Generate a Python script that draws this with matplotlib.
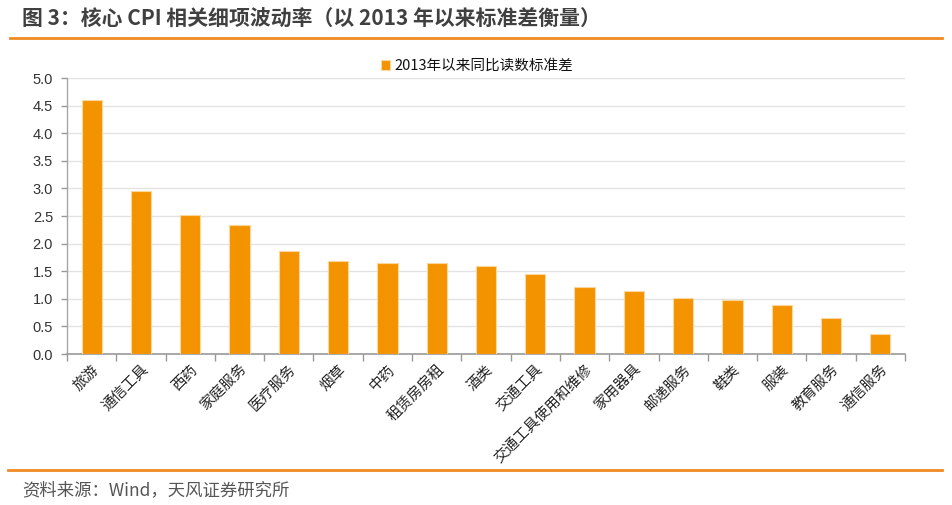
import matplotlib
matplotlib.use("Agg")
import matplotlib.pyplot as plt
import numpy as np

plt.rcParams['font.family'] = ['Noto Sans CJK SC', 'DejaVu Sans']

categories = ["旅游", "通信工具", "西药", "家庭服务", "医疗服务", "烟草", "中药", "租赁房房租",
              "酒类", "交通工具", "交通工具使用和维修", "家用器具", "邮递服务", "鞋类", "服装",
              "教育服务", "通信服务"]
values = [4.60, 2.95, 2.52, 2.34, 1.86, 1.69, 1.64, 1.64, 1.59, 1.45, 1.21, 1.14, 1.01, 0.97,
          0.88, 0.65, 0.37]
yticks = [0.0, 0.5, 1.0, 1.5, 2.0, 2.5, 3.0, 3.5, 4.0, 4.5, 5.0]
series_name = "2013年以来同比读数标准差"
title = "图 3：核心 CPI 相关细项波动率（以 2013 年以来标准差衡量）"
source = "资料来源：Wind，天风证券研究所"

W, H = 952, 505
fig = plt.figure(figsize=(W / 100, H / 100), dpi=100)
fig.patch.set_facecolor("white")

ax = fig.add_axes([67 / W, 1 - 354 / H, (905 - 67) / W, (354 - 78) / H])
x = np.arange(len(categories))
bar_color = "#F49300"
ax.bar(x, values, width=0.41, color=bar_color, edgecolor="#FBD7A0", linewidth=0.8,
       label=series_name, zorder=3)

ax.set_xlim(-0.5, len(categories) - 0.5)
ax.set_ylim(0, 5.0)
ax.set_yticks(yticks)
ax.set_yticklabels([f"{v:.1f}" for v in yticks], fontsize=10.5, color="#333333",
                   family=['Liberation Sans', 'DejaVu Sans'])
ax.yaxis.grid(True, color="#E3E3E3", linewidth=1.0, zorder=0)
ax.set_axisbelow(True)

ax.set_xticks(np.arange(-0.5, len(categories), 1.0))
ax.set_xticklabels([])
ax.set_xticks(x, minor=True)
ax.set_xticklabels(categories, minor=True, rotation=45, ha="right", va="top",
                   rotation_mode="anchor", fontsize=10.5, color="#222222")
ax.tick_params(axis="x", which="major", length=5, color="#999999", width=1)
ax.tick_params(axis="x", which="minor", length=0, pad=6)
ax.tick_params(axis="y", length=4, color="#999999", width=1, pad=6)

for s in ["top", "right"]:
    ax.spines[s].set_visible(False)
ax.spines["left"].set_color("#A6A6A6")
ax.spines["bottom"].set_color("#999999")
ax.spines["left"].set_linewidth(1)
ax.spines["bottom"].set_linewidth(1.2)

leg = ax.legend(loc="upper center", bbox_to_anchor=(477 / W, 1 - 46 / H),
                bbox_transform=fig.transFigure, frameon=False, fontsize=10.5,
                handlelength=0.6, handleheight=0.6, handletextpad=0.3)
for t in leg.get_texts():
    t.set_color("#111111")

fig.text(22 / W, 1 - 19 / H, title, fontsize=15, fontweight="bold", color="#404040",
         ha="left", va="center")
fig.add_artist(plt.Line2D([10 / W, 942 / W], [1 - 38 / H, 1 - 38 / H], color="#F08A24",
                          linewidth=2, transform=fig.transFigure))
fig.add_artist(plt.Line2D([8 / W, 942 / W], [1 - 470 / H, 1 - 470 / H], color="#F08A24",
                          linewidth=2, transform=fig.transFigure))
fig.text(22 / W, 1 - 490 / H, source, fontsize=12.5, color="#555555", ha="left", va="center")

fig.savefig("out.png", dpi=100, facecolor="white")
